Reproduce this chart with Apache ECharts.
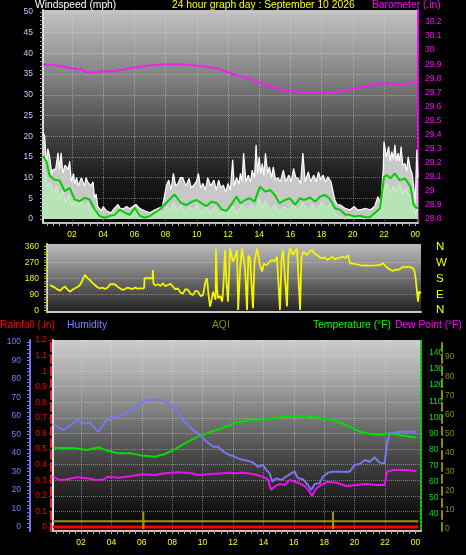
<!DOCTYPE html>
<html><head><meta charset="utf-8">
<script src="https://cdn.jsdelivr.net/npm/echarts@6.0.0/dist/echarts.min.js"></script>
<style>html,body{margin:0;padding:0;background:#000;}#c{width:466px;height:555px;}</style>
</head><body><div id="c"></div>
<script>
// ---------- data (hour of day, value) ----------
const gust = [[0.14,21],[0.25,20],[0.36,13],[0.45,17],[0.57,15],[0.7,11],[0.8,12],[0.95,12],[1.1,16],[1.2,12],
[1.3,16],[1.42,11],[1.55,13],[1.75,12],[1.85,14],[1.96,9],[2.1,11],[2.17,8.5],[2.3,10],[2.4,8],
[2.6,10],[2.8,8],[2.9,10],[3.0,9],[3.2,8],[3.35,9],[3.45,5],[3.55,6],[3.65,3],[3.9,2],
[4.0,3],[4.2,2],[4.5,1.5],[4.7,2.5],[4.95,3.5],[5.1,2.5],[5.3,2.5],[5.5,3],[5.7,2.5],[5.9,3],
[6.1,3.5],[6.35,2.5],[6.65,2],[7.0,1.5],[7.2,2],[7.5,2.5],[7.8,3],[7.95,6],[8.05,8],[8.2,9.4],
[8.35,7],[8.5,11],[8.65,8],[8.8,8.6],[8.95,10],[9.1,10],[9.3,8],[9.5,9.8],[9.65,7.5],[9.8,8.2],
[9.97,9],[10.1,11],[10.25,7.5],[10.4,8.6],[10.55,7],[10.7,10],[10.9,8],[11.1,9.4],[11.25,7],[11.4,9.4],
[11.55,7.5],[11.7,8.2],[11.85,6.5],[12.0,8.6],[12.15,7],[12.3,14.3],[12.4,8],[12.55,10],[12.7,8.5],[12.8,11],
[12.9,9],[13.0,15.9],[13.15,9],[13.3,10.6],[13.45,9],[13.55,11.8],[13.7,10],[13.8,17.9],[13.9,11],[14.0,15],
[14.1,11],[14.2,13.4],[14.3,10.5],[14.4,15.9],[14.55,11],[14.65,12.6],[14.8,10],[14.9,12.6],[15.05,9.5],[15.2,10],
[15.35,9],[15.55,11.8],[15.7,9],[15.9,10.6],[16.05,9],[16.2,12.2],[16.35,10],[16.5,9.8],[16.65,8.5],[16.8,15.9],
[16.95,9],[17.15,11.4],[17.3,9],[17.5,10.6],[17.65,9],[17.8,11.4],[17.95,9.5],[18.1,10.6],[18.25,9],[18.4,10.2],
[18.6,9],[18.85,4.6],[19.0,3.5],[19.2,3.4],[19.5,2.6],[19.8,2.2],[20.1,3],[20.3,2.2],[20.5,2.2],[20.8,2.6],
[21.1,2.2],[21.4,3],[21.6,5.4],[21.8,3.8],[21.95,12],[22.0,18.7],[22.15,15],[22.3,17.5],[22.4,14],[22.5,16.3],
[22.6,14.5],[22.7,17.9],[22.8,14],[22.9,15.9],[23.0,14],[23.1,17.5],[23.2,13],[23.35,13.4],[23.45,11.5],[23.55,15],
[23.7,12],[23.8,11],[23.9,8],[24.0,3.8],[24.1,16.7],[24.18,10]];

const speed = [[0.14,12],[0.3,11],[0.4,8],[0.6,9],[0.8,6],[1.0,8],[1.2,5],[1.4,7],[1.6,4],[1.8,6],[2.0,3],[2.2,5],
[2.4,3],[2.6,4.5],[2.8,3],[3.0,4],[3.2,2],[3.4,2.5],[3.6,1],[3.8,0.3],[4.0,0],[4.3,0.5],[4.6,1],[4.9,2],[5.1,1],
[5.4,1.5],[5.7,0.5],[6.0,2],[6.2,1],[6.5,0.3],[6.8,0.5],[7.0,1],[7.3,1.5],[7.6,2],[7.9,1.5],[8.1,3],[8.3,2],[8.5,4],
[8.7,2],[9.0,3.5],[9.2,1.5],[9.5,3],[9.8,2],[10.0,3.5],[10.3,1.5],[10.6,3],[10.9,1.5],[11.2,3],[11.5,1],[11.8,2.5],
[12.0,1],[12.3,3],[12.6,1.5],[12.9,3.5],[13.2,2],[13.5,3.5],[13.8,2],[14.0,5],[14.2,2.5],[14.4,4.5],[14.7,2],[15.0,3.5],
[15.3,1.5],[15.6,3],[15.9,2],[16.2,3.5],[16.5,2],[16.8,4],[17.1,2],[17.4,3.5],[17.7,2],[18.0,4],[18.3,2.5],[18.6,4],
[18.9,1],[19.2,0.5],[19.5,0],[19.8,0.5],[20.1,0],[20.4,0.5],[20.7,0],[21.0,0.3],[21.3,0.8],[21.6,1.5],[21.8,2],[22.0,7],
[22.2,8.5],[22.4,6],[22.6,8],[22.8,6.5],[23.0,8.5],[23.2,6],[23.4,7.5],[23.6,5.5],[23.8,6],[24.0,1],[24.18,3]];

const avgSpeed = [[0.14,15.3],[0.35,14],[0.57,10.4],[0.89,9.5],[1.21,9.3],[1.53,6.7],[1.85,7.5],[2.17,4.7],[2.49,4.3],
[2.81,5.1],[3.13,4.7],[3.45,2.3],[3.77,0.7],[4.09,0.3],[4.41,0.7],[4.74,1],[5.06,2.3],[5.38,1.5],[5.7,1],[6.02,2.7],
[6.34,0.8],[6.66,0.3],[6.98,0.7],[7.3,1.5],[7.62,2.3],[7.94,3.5],[8.26,4.7],[8.58,5.9],[8.7,5.6],[9.0,3.8],[9.35,3.4],
[9.7,4.2],[10.0,4.6],[10.3,3.8],[10.6,3.1],[10.95,4.2],[11.3,3.8],[11.6,2.3],[11.9,2],[12.2,3.4],[12.55,5.4],[12.8,3.8],
[13.1,4.6],[13.4,5],[13.7,4.2],[14.05,7.8],[14.4,6.6],[14.7,7],[15.0,5.8],[15.3,3.8],[15.65,4.6],[15.97,5],[16.3,3.4],
[16.6,5],[16.9,4.6],[17.25,5.2],[17.6,4.2],[17.9,5.4],[18.2,5.8],[18.5,5],[18.85,2.6],[19.2,2.2],[19.5,1.1],[19.8,1],
[20.1,0.6],[20.5,0.8],[20.8,0.4],[21.1,0.4],[21.4,1.4],[21.75,2.6],[22.0,10.2],[22.2,10.6],[22.4,9.8],[22.7,11],
[23.0,9.4],[23.35,9.8],[23.7,7.8],[23.9,3.4],[24.1,2.6],[24.18,3]];

const barometer = [[0.14,29.9],[1.0,29.89],[1.66,29.878],[2.7,29.859],[2.95,29.838],[3.8,29.847],[4.85,29.854],
[5.9,29.875],[7.0,29.89],[8.1,29.9],[9.1,29.9],[10.2,29.887],[11.3,29.87],[12.3,29.83],[13.4,29.795],[14.45,29.752],
[15.5,29.717],[16.6,29.7],[17.65,29.7],[18.7,29.693],[19.8,29.72],[20.85,29.745],[21.9,29.765],[23.0,29.757],
[23.6,29.76],[24.05,29.783],[24.18,29.79]];

const windDir = [[0.59,143],[0.75,135],[0.91,128],[1.07,118],[1.23,110],[1.39,125],[1.55,134],[1.71,118],[1.87,105],
[2.03,116],[2.19,124],[2.35,132],[2.51,143],[2.67,170],[2.83,200],[2.99,182],[3.15,171],[3.31,155],[3.47,143],
[3.63,130],[3.79,124],[3.95,128],[4.12,120],[4.28,128],[4.44,147],[4.6,147],[4.76,147],[4.92,133],[5.08,124],
[5.24,115],[5.4,120],[5.56,128],[5.72,124],[5.88,120],[6.04,128],[6.2,122],[6.36,124],[6.62,124],[6.65,181],
[7.0,181],[7.16,181],[7.19,228],[7.22,152],[7.35,140],[7.51,147],[7.67,138],[7.83,152],[7.99,136],[8.15,143],
[8.31,150],[8.47,134],[8.63,118],[8.79,124],[8.95,100],[9.12,96],[9.28,120],[9.44,115],[9.6,92],[9.76,87],
[9.92,110],[10.08,105],[10.24,80],[10.4,87],[10.55,160],[10.65,181],[10.75,90],[10.85,21],[10.95,60],[11.04,105],
[11.2,60],[11.23,347],[11.3,120],[11.36,68],[11.5,80],[11.62,49],[11.7,130],[11.81,341],[11.9,160],[12.0,49],
[12.13,350],[12.32,275],[12.45,300],[12.58,341],[12.65,2],[12.78,240],[12.9,350],[13.09,238],[13.22,2],[13.3,310],
[13.41,294],[13.6,11],[13.7,280],[13.86,350],[14.05,256],[14.18,219],[14.3,262],[14.5,256],[14.65,275],[14.82,285],
[14.98,278],[15.14,303],[15.33,2],[15.43,290],[15.53,341],[15.78,21],[15.87,300],[15.97,350],[16.17,313],[16.3,335],
[16.42,350],[16.62,2],[16.7,290],[16.81,332],[17.06,313],[17.2,330],[17.38,341],[17.55,320],[17.71,313],[17.87,300],
[18.03,294],[18.19,300],[18.35,285],[18.51,292],[18.67,303],[18.83,288],[18.99,294],[19.18,298],[19.37,303],[19.53,296],
[19.69,313],[19.82,266],[20.05,264],[20.27,260],[20.46,256],[20.65,253],[20.9,254],[21.1,253],[21.42,254],[21.74,256],
[21.94,266],[22.1,250],[22.26,238],[22.42,228],[22.58,222],[22.74,230],[22.9,228],[23.06,236],[23.22,247],[23.38,242],
[23.54,247],[23.7,243],[23.86,238],[23.96,220],[24.05,162],[24.18,49],[24.24,105],[24.37,96]];

const rainfall = [[0.16,0],[24.2,0]];
const aqi = [[0.16,4],[6.1,4],[6.1,9],[6.1,0],[6.12,4],[18.58,4],[18.58,9],[18.58,0],[18.6,4],[24.2,4]];
const humidity = [[0.18,55.7],[0.5,53.9],[0.84,52.4],[1.17,54.2],[1.5,56],[1.72,57.8],[2.15,56],[2.6,56.4],[2.92,53.3],
[3.14,51.5],[3.36,54.2],[3.69,57.8],[3.9,57.8],[4.13,59.6],[4.57,60],[5.0,61.4],[5.44,64.2],[5.88,66.9],[6.32,68.6],
[6.98,69],[7.41,68.6],[7.86,65.9],[8.3,63.2],[8.63,59.6],[8.7,57.8],[9.06,55],[9.39,52.4],[9.83,49.7],[10.27,46.1],
[10.7,43.4],[11.03,43.4],[11.36,40.7],[11.8,38.9],[12.0,38.4],[12.33,37.1],[12.66,36.2],[12.99,35.8],[13.32,34.8],
[13.64,32.6],[13.97,33.5],[14.19,30.8],[14.41,29],[14.59,24.5],[14.85,26.3],[15.18,25.4],[15.5,27.2],[15.84,29],
[16.06,29.9],[16.28,26.3],[16.6,25.8],[16.93,22.7],[17.15,20],[17.38,23.2],[17.7,23.6],[17.92,27.2],[18.25,29.4],
[18.58,29.9],[19.0,29.9],[19.68,29.9],[20.0,33.5],[20.34,34.1],[20.66,36.2],[21.0,35.3],[21.32,37.7],[21.65,34.8],
[21.98,34.4],[22.13,45.2],[22.3,50.3],[22.97,51.5],[24.06,51.5]];
const temperature = [[0.18,81.1],[1.72,80.7],[2.37,79.7],[3.14,81.3],[3.8,79.1],[4.46,77.6],[5.33,77.6],[5.99,76.2],
[6.86,75.5],[7.52,77.2],[8.18,80.1],[8.83,83.8],[9.7,88],[10.58,91.1],[11.23,93.2],[11.86,95.2],[12.0,96.3],[13.1,98.3],
[14.19,98.8],[15.29,100.4],[16.39,100.8],[17.48,100],[18.58,98.3],[19.68,94.2],[20.34,91.1],[21.0,89.6],[21.65,89],
[22.3,90.1],[22.97,89],[24.06,87.3]];
const dewPoint = [[0.18,63.1],[0.57,61.1],[1.0,61.4],[1.72,62.7],[2.37,62.1],[3.03,61.1],[3.47,61.4],[3.8,63.1],
[4.46,62.5],[5.33,63.5],[5.99,64.6],[6.86,64.2],[7.52,65.2],[8.4,65.8],[9.28,65.2],[9.7,64.2],[10.58,64.8],[11.86,65.6],
[12.0,65.2],[12.66,65.6],[13.32,64.8],[13.97,63.1],[14.3,61.5],[14.5,54.8],[14.74,56.9],[15.07,58.6],[15.4,58],
[15.73,61.1],[16.06,60],[16.39,59],[16.71,57.3],[17.04,53.8],[17.2,51.1],[17.48,55.9],[17.81,58],[18.25,60],[18.8,59.4],
[19.46,57.3],[20.12,58],[20.77,58.6],[21.43,58],[21.98,58],[22.13,66.2],[22.53,67.3],[23.41,67.3],[24.06,66.6]];

// ---------- tick labels ----------
const hourTicks = [2,4,6,8,10,12,14,16,18,20,22,24];
const windTicks = [0,5,10,15,20,25,30,35,40,45,50];
const baroTicks = [28.8,28.9,29,29.1,29.2,29.3,29.4,29.5,29.6,29.7,29.8,29.9,30,30.1,30.2];
const dirTicks = [0,90,180,270,360];
const compassNames = ['N','E','S','W','N'];
const humTicks = [0,10,20,30,40,50,60,70,80,90,100];
const rainTicks = [0,0.1,0.2,0.3,0.4,0.5,0.6,0.7,0.8,0.9,1,1.1,1.2];
const tempTicks = [40,50,60,70,80,90,100,110,120,130,140];
const aqiTicks = [0,10,20,30,40,50,60,70,80,90];

function range(a, b, s) { const r = []; for (let i = 0; a + i * s <= b + 1e-9; i++) r.push(Math.round((a + i * s) * 1000) / 1000); return r; }
const FONT = 'Liberation Sans';
const TFS = 10.3;
const fmtHour = v => { const n = Math.round(v) % 24; return (n < 10 ? '0' : '') + n; };
const dotted = { show: true, lineStyle: { color: 'rgba(225,225,225,0.45)', type: 'dotted', width: 1 } };
const lbl = (color, margin, extra) => Object.assign({ color, fontSize: 8.5, fontFamily: FONT, margin }, extra || {});
const grad = (stops) => new echarts.graphic.LinearGradient(0, 0, 0, 1, stops.map((c, i) => ({ offset: i / (stops.length - 1), color: c })));

const chart = echarts.init(document.getElementById('c'), null, { renderer: 'canvas' });
const ln = (name, data, xi, yi, color, width, extra) => Object.assign({
  type: 'line', name, data, xAxisIndex: xi, yAxisIndex: yi, showSymbol: false, symbol: 'none',
  lineStyle: { color, width }, itemStyle: { color }, animation: false, silent: true
}, extra || {});

chart.setOption({
  backgroundColor: '#000',
  animation: false,
  grid: [
    { left: 43, top: 10, width: 375, height: 213, show: true, borderWidth: 0,
      backgroundColor: grad(['#c2c2c2', '#9a9a9a', '#6e6e6e', '#404040', '#1a1a1a', '#050505']) },
    { left: 47, top: 244, width: 374, height: 68, show: true, borderWidth: 0,
      backgroundColor: grad(['#bcbcbc', '#8a8a8a', '#555555', '#202020']) },
    { left: 53, top: 340, width: 368, height: 191, show: true, borderWidth: 0,
      backgroundColor: grad(['#cccccc', '#a8a8a8', '#7a7a7a', '#4a4a4a', '#222222', '#000000']) }
  ],
  xAxis: [
    { type: 'value', gridIndex: 0, min: 0.141, max: 24.18, position: 'bottom',
      axisLine: { show: true, onZero: false, lineStyle: { color: '#c0c0c0', width: 2 } },
      axisTick: { show: true, customValues: range(0.4, 24, 0.4), length: 3, lineStyle: { color: '#a8a8a8' } },
      axisLabel: lbl('#ffff00', 7, { customValues: hourTicks, formatter: fmtHour }),
      splitLine: { show: false } },
    { type: 'value', gridIndex: 0, min: 0.141, max: 24.18, position: 'bottom',
      axisLine: { show: false, onZero: false }, axisTick: { show: false, customValues: range(2, 22, 2) },
      axisLabel: { show: false }, splitLine: dotted },
    { type: 'value', gridIndex: 1, min: 0.397, max: 24.37, position: 'bottom',
      axisLine: { show: true, onZero: false, lineStyle: { color: '#c8c8c8', width: 2 } },
      axisTick: { show: false }, axisLabel: { show: false }, splitLine: { show: false } },
    { type: 'value', gridIndex: 2, min: 0.158, max: 24.37, position: 'bottom',
      axisLine: { show: true, onZero: false, lineStyle: { color: '#c0c0c0', width: 2 } },
      axisTick: { show: true, customValues: range(0.4, 24.2, 0.4), length: 3, lineStyle: { color: '#a8a8a8' } },
      axisLabel: lbl('#ffff00', 7, { customValues: hourTicks, formatter: fmtHour }),
      splitLine: { show: false } },
    { type: 'value', gridIndex: 2, min: 0.158, max: 24.37, position: 'bottom',
      axisLine: { show: false, onZero: false }, axisTick: { show: false, customValues: range(2, 22, 2) },
      axisLabel: { show: false }, splitLine: dotted }
  ],
  yAxis: [
    { type: 'value', gridIndex: 0, min: -0.966, max: 50.48, position: 'left',
      axisLine: { show: true, onZero: false, lineStyle: { color: '#e0e0e0', width: 2 } },
      axisTick: { show: true, customValues: range(0, 50, 1), length: 3, lineStyle: { color: '#9a9a9a' } },
      axisLabel: lbl('#b8d4ff', 10, { customValues: windTicks }), splitLine: { show: false } },
    { type: 'value', gridIndex: 0, min: -0.966, max: 50.48, position: 'left',
      axisLine: { show: false, onZero: false }, axisTick: { show: false, customValues: range(5, 50, 5) },
      axisLabel: { show: false }, splitLine: dotted },
    { type: 'value', gridIndex: 0, min: 28.7716, max: 30.285, position: 'right',
      axisLine: { show: true, onZero: false, lineStyle: { color: '#ff00ff', width: 2, type: 'dotted' } },
      axisTick: { show: false }, axisLabel: lbl('#ff00ff', 7, { customValues: baroTicks }), splitLine: { show: false } },
    { type: 'value', gridIndex: 1, min: -10, max: 375, position: 'left',
      axisLine: { show: true, onZero: false, lineStyle: { color: '#d0d0d0', width: 2 } },
      axisTick: { show: true, customValues: range(0, 360, 15), length: 3, lineStyle: { color: '#b8b800' } },
      axisLabel: lbl('#f0f000', 8, { customValues: dirTicks }), splitLine: { show: false } },
    { type: 'value', gridIndex: 1, min: -10, max: 375, position: 'right',
      axisLine: { show: false, onZero: false }, axisTick: { show: false },
      axisLabel: { customValues: dirTicks, formatter: v => compassNames[dirTicks.indexOf(Math.round(v))],
        color: '#ffff00', fontSize: 11.5, fontFamily: FONT, margin: 15 }, splitLine: { show: false } },
    { type: 'value', gridIndex: 1, min: -10, max: 375, position: 'left',
      axisLine: { show: false, onZero: false }, axisTick: { show: false, customValues: [90, 180, 270] },
      axisLabel: { show: false }, splitLine: dotted },
    { type: 'value', gridIndex: 2, min: -2.16, max: 101.08, position: 'left', offset: 23,
      axisLine: { show: true, onZero: false, lineStyle: { color: '#7474f4', width: 2 } },
      axisTick: { show: true, customValues: range(0, 100, 2), length: 3, lineStyle: { color: '#7474f4' } },
      axisLabel: lbl('#7c7cff', 9, { customValues: humTicks }), splitLine: { show: false } },
    { type: 'value', gridIndex: 2, min: -0.0257, max: 1.2, position: 'left', offset: 2,
      axisLine: { show: true, onZero: false, lineStyle: { color: '#ff2020', width: 2, type: 'dashed' } },
      axisTick: { show: true, customValues: rainTicks, length: 2, lineStyle: { color: '#ff0000' } },
      axisLabel: lbl('#ff0000', 4, { customValues: rainTicks }), splitLine: { show: false } },
    { type: 'value', gridIndex: 2, min: -0.0257, max: 1.2, position: 'left',
      axisLine: { show: true, onZero: false, lineStyle: { color: '#e8e8e8', width: 2 } },
      axisTick: { show: false, customValues: range(0.1, 1.1, 0.1) },
      axisLabel: { show: false }, splitLine: dotted },
    { type: 'value', gridIndex: 2, min: 29.38, max: 148, position: 'right',
      axisLine: { show: true, onZero: false, lineStyle: { color: '#00e000', width: 2, type: 'dotted' } },
      axisTick: { show: false }, axisLabel: lbl('#00e000', 8, { customValues: tempTicks }), splitLine: { show: false } },
    { type: 'value', gridIndex: 2, min: -1.05, max: 98.95, position: 'right', offset: 21,
      axisLine: { show: true, onZero: false, lineStyle: { color: '#8c8c00', width: 2, type: 'dashed' } },
      axisTick: { show: false }, axisLabel: lbl('#8c8c00', 3, { customValues: aqiTicks }), splitLine: { show: false } }
  ],
  graphic: [
    { type: 'text', left: 35, top: 0, style: { text: 'Windspeed (mph)', fill: '#ffffff', fontSize: TFS, fontFamily: FONT } },
    { type: 'text', left: 172, top: 0, style: { text: '24 hour graph day : September 10 2026', fill: '#ffff00', fontSize: TFS, fontFamily: FONT } },
    { type: 'text', left: 372, top: 0, style: { text: 'Barometer (.in)', fill: '#ff00ff', fontSize: TFS, fontFamily: FONT } },
    { type: 'text', left: 0, top: 320, style: { text: 'Rainfall (.in)', fill: '#ff0000', fontSize: TFS, fontFamily: FONT } },
    { type: 'text', left: 67, top: 320, style: { text: 'Humidity', fill: '#8080ff', fontSize: TFS, fontFamily: FONT } },
    { type: 'text', left: 212, top: 320, style: { text: 'AQI', fill: '#8a8a10', fontSize: TFS, fontFamily: FONT } },
    { type: 'text', left: 313, top: 320, style: { text: 'Temperature (°F)', fill: '#00ff00', fontSize: TFS, fontFamily: FONT } },
    { type: 'text', right: 4, top: 320, style: { text: 'Dew Point (°F)', fill: '#ff00ff', fontSize: TFS, fontFamily: FONT } }
  ],
  series: [
    ln('Gust', gust, 0, 0, '#ffffff', 1.2, { areaStyle: { color: '#dcdcdc', opacity: 0.9 } }),
    ln('Wind speed', speed, 0, 0, '#c8f4c8', 1, { areaStyle: { color: '#b6e6b6', opacity: 0.95 } }),
    ln('Average', avgSpeed, 0, 0, '#00d000', 2),
    ln('Barometer', barometer, 0, 2, '#ee22ee', 2),
    ln('Wind direction', windDir, 2, 3, '#f4f400', 1.8),
    ln('Rainfall', rainfall, 3, 7, '#ff0000', 3),
    ln('AQI', aqi, 3, 10, '#9a9a00', 2),
    ln('Temperature', temperature, 3, 9, '#00e000', 2),
    ln('Dew Point', dewPoint, 3, 9, '#ee10ee', 2),
    ln('Humidity', humidity, 3, 6, '#7878ee', 2)
  ]
});
</script></body></html>
